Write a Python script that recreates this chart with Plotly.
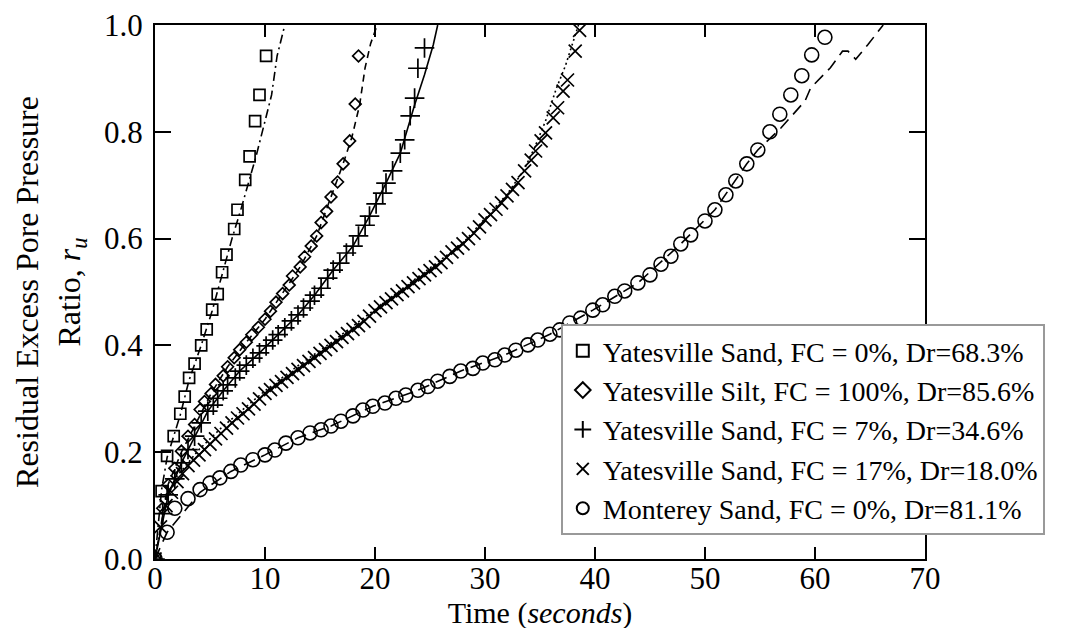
import plotly.graph_objects as go

FONT = "Liberation Serif"

# ---------------- data ----------------
labels = [
    "Yatesville Sand, FC = 0%, Dr=68.3%",
    "Yatesville Silt, FC = 100%, Dr=85.6%",
    "Yatesville Sand, FC = 7%, Dr=34.6%",
    "Yatesville Sand, FC = 17%, Dr=18.0%",
    "Monterey Sand, FC = 0%, Dr=81.1%",
]

# Yatesville Sand FC 0% (squares)
sq_t = [0, 0.6, 1.1, 1.7, 2.3, 2.7, 3.1, 3.6, 4.2, 4.7, 5.2, 5.7, 6.1, 6.5, 7.2, 7.5, 8.2, 8.6, 9.1, 9.5, 10.1]
sq_r = [0, 0.127, 0.193, 0.23, 0.272, 0.304, 0.339, 0.366, 0.40, 0.43, 0.467, 0.496, 0.537, 0.57, 0.618, 0.654, 0.71, 0.754, 0.82, 0.869, 0.942]
sq_line_t = [0, 0.6, 1.1, 1.7, 2.3, 3.1, 4.2, 5.2, 6.1, 7.0, 7.8, 8.6, 9.2, 10.0, 10.6, 11.1, 11.8]
sq_line_r = [0, 0.13, 0.19, 0.23, 0.27, 0.335, 0.40, 0.465, 0.535, 0.60, 0.654, 0.71, 0.755, 0.82, 0.869, 0.942, 1.0]

# Yatesville Silt FC 100% (diamonds)
di_t = [0, 0.7, 1.2, 1.8, 2.4, 3.0, 3.6, 4.1, 4.5, 5.1, 5.5, 6.2, 6.6, 7.2, 7.7, 8.3, 8.8, 9.4, 10.0, 10.5,
        11.0, 11.6, 12.2, 12.5, 13.2, 13.6, 14.2, 14.7, 15.1, 15.6, 16.0, 16.6, 17.1, 17.7, 18.2, 18.5]
di_r = [0, 0.095, 0.139, 0.17, 0.202, 0.23, 0.252, 0.28, 0.295, 0.31, 0.327, 0.343, 0.36, 0.377, 0.392, 0.406,
        0.42, 0.434, 0.449, 0.464, 0.481, 0.497, 0.513, 0.53, 0.547, 0.566, 0.586, 0.605, 0.63, 0.651, 0.678,
        0.706, 0.74, 0.783, 0.852, 0.942]
di_line_t = [0, 1.2, 2.4, 3.6, 5.1, 6.6, 8.3, 10.0, 11.6, 13.2, 14.7, 16.0, 17.1, 17.9, 18.6, 19.1, 19.6, 20.2]
di_line_r = [0, 0.14, 0.2, 0.25, 0.31, 0.36, 0.406, 0.449, 0.497, 0.547, 0.605, 0.678, 0.74, 0.79, 0.85, 0.92, 0.965, 1.0]

# Yatesville Sand FC 7% (plus)
pl_t = [0, 0.7, 1.2, 1.8, 2.4, 3.0, 3.6, 4.2, 4.8, 5.3, 5.7, 6.2, 6.6, 7.3, 7.7, 8.3, 8.9, 9.5, 10.1, 10.7,
        11.2, 11.8, 12.4, 13.0, 13.5, 14.1, 14.5, 15.1, 15.7, 16.2, 16.8, 17.4, 18.0, 18.5, 19.1, 19.5, 20.1,
        20.7, 21.0, 21.6, 22.3, 22.7, 23.2, 23.6, 23.9, 24.5]
pl_r = [0, 0.085, 0.12, 0.15, 0.18, 0.205, 0.23, 0.255, 0.277, 0.288, 0.301, 0.315, 0.326, 0.339, 0.352, 0.363,
        0.376, 0.386, 0.399, 0.41, 0.42, 0.433, 0.446, 0.457, 0.47, 0.483, 0.494, 0.507, 0.526, 0.541, 0.554,
        0.573, 0.586, 0.605, 0.625, 0.642, 0.665, 0.685, 0.704, 0.727, 0.76, 0.785, 0.83, 0.863, 0.919, 0.957]
pl_line_t = [0, 1.2, 2.4, 3.6, 4.8, 6.2, 7.7, 9.5, 11.2, 13.0, 14.5, 16.2, 18.0, 19.5, 21.0, 22.3, 23.6, 24.5, 25.3, 25.7]
pl_line_r = [0, 0.12, 0.18, 0.23, 0.277, 0.315, 0.352, 0.386, 0.42, 0.457, 0.494, 0.541, 0.586, 0.642, 0.704, 0.76,
             0.85, 0.907, 0.963, 1.0]

# Yatesville Sand FC 17% (x)
xx_t = [0, 0.5, 1, 1.5, 2, 2.5, 3, 3.5, 4, 4.5, 5, 5.5, 6, 6.5, 7, 7.5, 8, 8.5, 9, 9.5, 10, 10.5, 11, 11.5,
        12, 12.5, 13, 13.5, 14, 14.5, 15, 15.5, 16, 16.5, 17, 17.5, 18, 18.5, 19, 19.5, 20, 20.5, 21, 21.5,
        22, 22.5, 23, 23.5, 24, 24.5, 25, 25.5, 26, 26.5, 27, 27.5, 28, 28.5, 29, 29.5, 30, 30.5, 31, 31.5,
        32, 32.5, 33, 33.6, 34.2, 34.6, 35.1, 35.5, 36.2, 36.6, 37.1, 37.5, 38.2, 38.6]
xx_r = [0, 0.06, 0.10, 0.125, 0.145, 0.16, 0.175, 0.185, 0.195, 0.205, 0.215, 0.225, 0.235, 0.245, 0.255,
        0.264, 0.272, 0.281, 0.29, 0.30, 0.31, 0.317, 0.325, 0.332, 0.34, 0.347, 0.355, 0.362, 0.37, 0.377,
        0.385, 0.392, 0.40, 0.407, 0.415, 0.422, 0.43, 0.437, 0.445, 0.455, 0.465, 0.472, 0.48, 0.487, 0.495,
        0.502, 0.51, 0.517, 0.525, 0.532, 0.54, 0.547, 0.555, 0.565, 0.575, 0.582, 0.59, 0.60, 0.61, 0.622,
        0.635, 0.645, 0.655, 0.667, 0.68, 0.692, 0.705, 0.727, 0.747, 0.764, 0.783, 0.798, 0.826, 0.845,
        0.876, 0.897, 0.951, 0.99]
xx_line_t = [0, 1, 2, 4, 6, 8, 10, 13, 16, 19, 22, 25, 28, 30, 32, 33.5, 34.5, 35.5, 36.5, 37.3, 38.5]
xx_line_r = [0, 0.11, 0.155, 0.205, 0.245, 0.28, 0.315, 0.362, 0.405, 0.452, 0.498, 0.545, 0.592, 0.637, 0.683,
             0.727, 0.77, 0.82, 0.882, 0.923, 1.0]

# Monterey Sand FC 0% (circles)
ci_t = [0, 1.1, 1.8, 3.0, 4.1, 5.0, 5.9, 6.9, 7.8, 8.9, 10.0, 10.9, 11.9, 13.0, 14.1, 15.1, 16.0, 16.9, 18.0,
        18.9, 19.8, 20.9, 21.9, 22.8, 23.9, 24.8, 25.7, 26.8, 27.8, 28.9, 29.8, 30.9, 31.8, 32.8, 33.9, 34.8,
        35.9, 36.8, 37.7, 38.7, 39.8, 40.7, 41.8, 42.7, 43.9, 45.0, 46.0, 46.9, 47.8, 48.7, 50.0, 50.9, 51.9,
        52.8, 53.8, 54.8, 55.9, 56.8, 57.8, 58.8, 59.7, 60.9]
ci_r = [0, 0.05, 0.095, 0.113, 0.13, 0.142, 0.152, 0.164, 0.176, 0.186, 0.195, 0.204, 0.217, 0.227, 0.236,
        0.242, 0.249, 0.258, 0.268, 0.279, 0.286, 0.292, 0.301, 0.307, 0.316, 0.323, 0.333, 0.342, 0.352,
        0.357, 0.367, 0.373, 0.382, 0.391, 0.401, 0.41, 0.421, 0.429, 0.442, 0.451, 0.466, 0.476, 0.492,
        0.502, 0.517, 0.532, 0.552, 0.567, 0.59, 0.607, 0.633, 0.654, 0.682, 0.708, 0.74, 0.766, 0.80, 0.833,
        0.869, 0.905, 0.944, 0.977]
ci_line_t = [0, 1.1, 2.3, 4.1, 6.9, 10.0, 13.0, 16.0, 19.8, 23.9, 27.8, 31.8, 35.9, 39.8, 43.9, 47.8, 50.9,
             53.8, 54.8, 56.9, 59.1, 59.6, 61.4, 62.5, 63.0, 63.7, 64.8, 66.2]
ci_line_r = [0, 0.05, 0.08, 0.125, 0.164, 0.195, 0.227, 0.249, 0.286, 0.316, 0.352, 0.382, 0.421, 0.466, 0.517,
             0.59, 0.654, 0.74, 0.766, 0.807, 0.858, 0.882, 0.92, 0.951, 0.951, 0.936, 0.963, 1.0]

x_ticks = [0, 10, 20, 30, 40, 50, 60, 70]
y_ticks = [0.0, 0.2, 0.4, 0.6, 0.8, 1.0]

# ---------------- figure ----------------
fig = go.Figure()

line_specs = [
    (sq_line_t, sq_line_r, "9px,4px,2px,4px"),
    (di_line_t, di_line_r, "7px,5px"),
    (pl_line_t, pl_line_r, "solid"),
    (xx_line_t, xx_line_r, "2px,3px"),
    (ci_line_t, ci_line_r, "12px,7px"),
]
for lt, lr, dash in line_specs:
    fig.add_trace(go.Scatter(x=lt, y=lr, mode="lines", showlegend=False, hoverinfo="skip",
                             line=dict(color="black", width=1.6, dash=dash)))

marker_specs = [
    (sq_t, sq_r, "square-open", 11, 1.7),
    (di_t, di_r, "diamond-open", 9, 1.7),
    (pl_t, pl_r, "cross-thin-open", 14, 1.7),
    (xx_t, xx_r, "x-thin-open", 13, 1.7),
    (ci_t, ci_r, "circle-open", 14, 1.6),
]
for (mt, mr, sym, size, lw), name in zip(marker_specs, labels):
    fig.add_trace(go.Scatter(x=mt, y=mr, mode="markers", name=name,
                             marker=dict(symbol=sym, size=size, color="black",
                                         line=dict(color="black", width=lw))))

axis_common = dict(showline=True, linecolor="black", linewidth=2, mirror="ticks",
                   ticks="inside", tickwidth=2, tickcolor="black", showgrid=False, zeroline=False,
                   ticklabeloverflow="allow",
                   tickfont=dict(family=FONT, size=31, color="black"))

fig.update_xaxes(range=[0, 70], tickvals=x_ticks, ticklen=12, ticklabelstandoff=-9,
                 title=dict(text="Time (<i>seconds</i>)", font=dict(family=FONT, size=30, color="black"),
                            standoff=3),
                 **axis_common)
fig.update_yaxes(range=[0, 1], tickvals=y_ticks, tickformat=".1f", ticklen=16, ticklabelstandoff=4,
                 title=dict(text="Residual Excess Pore Pressure<br>Ratio, <i>r<sub>u</sub></i>",
                            font=dict(family=FONT, size=32, color="black"), standoff=14),
                 **axis_common)

fig.update_layout(
    width=1081, height=628,
    margin=dict(l=147, r=164, t=17, b=77, autoexpand=False),
    plot_bgcolor="white", paper_bgcolor="white",
    font=dict(family=FONT, size=28, color="black"),
    showlegend=True,
    legend=dict(x=0.527, y=0.045, xanchor="left", yanchor="bottom",
                bgcolor="white", bordercolor="#999999", borderwidth=2,
                font=dict(family=FONT, size=28, color="black"),
                itemsizing="constant", tracegroupgap=0),
)

fig.write_html("out.html")
